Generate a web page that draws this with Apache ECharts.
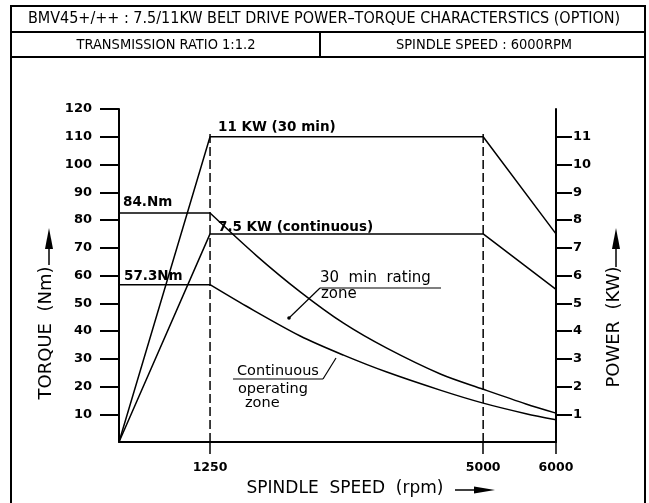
<!DOCTYPE html>
<html>
<head>
<meta charset="utf-8">
<script src="https://cdn.jsdelivr.net/npm/echarts@6/dist/echarts.min.js"></script>
<style>
  html, body { margin: 0; padding: 0; background: #fff; }
  #main { width: 649px; height: 503px; }
</style>
</head>
<body>
<div id="main"></div>
<script>
// spindle speed (rpm) vs torque (Nm)
const torque30 = [[0, 82.5], [1250, 82.5], [1894, 67.0], [2488, 54.1], [3083, 42.8], [3677, 33.8], [4420, 24.4], [5000, 19.0], [5588, 13.7], [6000, 10.4]];
const torqueCont = [[0, 56.7], [1250, 56.7], [1745, 49.0], [2488, 38.2], [3083, 31.3], [3677, 25.2], [4420, 18.6], [5000, 14.0], [5588, 10.2], [6000, 8.0]];
// spindle speed (rpm) vs power (kW)
const power30 = [[0, 0], [1250, 11], [5000, 11], [6000, 7.5]];
const powerCont = [[0, 0], [1250, 7.5], [5000, 7.5], [6000, 5.5]];
// dashed guide lines (rpm, top in kW)
const guideSpeeds = [1250, 5000];
const guideTop = 11.15;
// tick labels
const speedTicks = [1250, 5000, 6000];
const torqueTicks = [10, 20, 30, 40, 50, 60, 70, 80, 90, 100, 110, 120];
const powerTicks = [1, 2, 3, 4, 5, 6, 7, 8, 9, 10, 11];

const myChart = echarts.init(document.getElementById('main'));

const sans = "'DejaVu Sans', sans-serif";
const cond = "'DejaVu Sans Condensed', sans-serif";
const boldNum = { color: '#000', fontFamily: sans, fontWeight: 'bold', fontSize: 13, formatter: function (v) { return String(v); } };

function line(x1, y1, x2, y2, w) {
  return { type: 'line', shape: { x1: x1, y1: y1, x2: x2, y2: y2 }, style: { stroke: '#000', lineWidth: w || 1.5 }, silent: true };
}
function txt(x, y, s, font, align, rot) {
  return {
    type: 'text', x: x, y: y, rotation: rot || 0, silent: true,
    style: { text: s, fill: '#000', font: font, textAlign: align || 'left', textVerticalAlign: 'middle' }
  };
}
function arrow(pts) {
  return { type: 'polygon', shape: { points: pts }, style: { fill: '#000' }, silent: true };
}

const curveStyle = { color: '#000', width: 1.5 };
function flatPart(d) { return d.slice(0, 2); }
function fallPart(d) { return d.slice(1); }

const series = [
  { type: 'line', data: flatPart(torque30), yAxisIndex: 0, symbol: 'none', lineStyle: curveStyle },
  { type: 'line', data: fallPart(torque30), yAxisIndex: 0, symbol: 'none', smooth: 0.3, lineStyle: curveStyle },
  { type: 'line', data: flatPart(torqueCont), yAxisIndex: 0, symbol: 'none', lineStyle: curveStyle },
  { type: 'line', data: fallPart(torqueCont), yAxisIndex: 0, symbol: 'none', smooth: 0.3, lineStyle: curveStyle },
  { type: 'line', data: power30, yAxisIndex: 1, symbol: 'none', lineStyle: curveStyle },
  { type: 'line', data: powerCont, yAxisIndex: 1, symbol: 'none', lineStyle: curveStyle }
];
guideSpeeds.forEach(function (s) {
  series.push({
    type: 'line', yAxisIndex: 1, symbol: 'none', data: [[s, 0], [s, guideTop]],
    lineStyle: { color: '#000', width: 1.5, type: [9, 4] }
  });
});

const option = {
  animation: false,
  grid: { left: 119, right: 93, top: 109, bottom: 61, containLabel: false, outerBoundsMode: 'none' },
  xAxis: {
    type: 'value', min: 0, max: 6000, interval: 250,
    axisLine: { show: true, lineStyle: { color: '#000', width: 2 } },
    axisTick: { show: true, customValues: speedTicks, length: 12, lineStyle: { color: '#000', width: 1.5 } },
    axisLabel: Object.assign({ customValues: speedTicks, margin: 19 }, boldNum, { fontSize: 12.5 }),
    splitLine: { show: false }
  },
  yAxis: [
    {
      type: 'value', min: 0, max: 120, interval: 10, position: 'left',
      axisLine: { show: true, lineStyle: { color: '#000', width: 2 } },
      axisTick: { show: true, customValues: torqueTicks, length: 19, lineStyle: { color: '#000', width: 2 } },
      axisLabel: Object.assign({ customValues: torqueTicks, margin: 27 }, boldNum),
      splitLine: { show: false }
    },
    {
      type: 'value', min: 0, max: 12, interval: 1, position: 'right',
      axisLine: { show: true, lineStyle: { color: '#000', width: 2 } },
      axisTick: { show: true, customValues: powerTicks, length: 16, lineStyle: { color: '#000', width: 2 } },
      axisLabel: Object.assign({ customValues: powerTicks, margin: 17 }, boldNum),
      splitLine: { show: false }
    }
  ],
  series: series,
  graphic: [
    // frame and title block
    { type: 'rect', shape: { x: 11, y: 6, width: 634, height: 520 }, style: { fill: null, stroke: '#000', lineWidth: 2 }, silent: true },
    line(11, 32, 645, 32, 2),
    line(11, 57, 645, 57, 2),
    line(320, 32, 320, 57, 2),
    txt(324, 19, 'BMV45+/++ : 7.5/11KW BELT DRIVE POWER\u2013TORQUE CHARACTERSTICS (OPTION)', '16px ' + cond, 'center'),
    txt(166, 45, 'TRANSMISSION RATIO 1:1.2', '14.5px ' + cond, 'center'),
    txt(484, 45, 'SPINDLE SPEED : 6000RPM', '14.5px ' + cond, 'center'),
    // curve labels
    txt(218, 127, '11 KW (30 min)', 'bold 13.5px ' + sans),
    txt(218, 227, '7.5 KW (continuous)', 'bold 13.5px ' + sans),
    txt(123, 202, '84.Nm', 'bold 13.5px ' + sans),
    txt(124, 276, '57.3Nm', 'bold 13.5px ' + sans),
    // zone notes
    txt(320, 278, '30  min  rating', '15px ' + sans),
    txt(321, 294, 'zone', '15px ' + sans),
    line(320, 288, 441, 288, 1.2),
    line(320, 288, 289, 318, 1.2),
    { type: 'circle', shape: { cx: 289, cy: 318, r: 1.8 }, style: { fill: '#000' }, silent: true },
    txt(237, 371, 'Continuous', '14.5px ' + sans),
    txt(238, 389, 'operating', '14.5px ' + sans),
    txt(245, 403, 'zone', '14.5px ' + sans),
    line(233, 379, 323, 379, 1.2),
    line(323, 379, 336, 358, 1.2),
    // axis titles with arrows
    txt(46, 333, 'TORQUE  (Nm)', '18px ' + sans, 'center', Math.PI / 2),
    line(49, 265, 49, 245, 1.5),
    arrow([[49, 228], [45, 249], [53, 249]]),
    txt(614, 327, 'POWER  (KW)', '18px ' + sans, 'center', Math.PI / 2),
    line(616, 267, 616, 245, 1.5),
    arrow([[616, 228], [612, 249], [620, 249]]),
    txt(345, 489, 'SPINDLE  SPEED  (rpm)', '17px ' + sans, 'center'),
    line(455, 490, 476, 490, 1.5),
    arrow([[495, 490], [474, 486.5], [474, 493.5]])
  ]
};

myChart.setOption(option);
</script>
</body>
</html>
